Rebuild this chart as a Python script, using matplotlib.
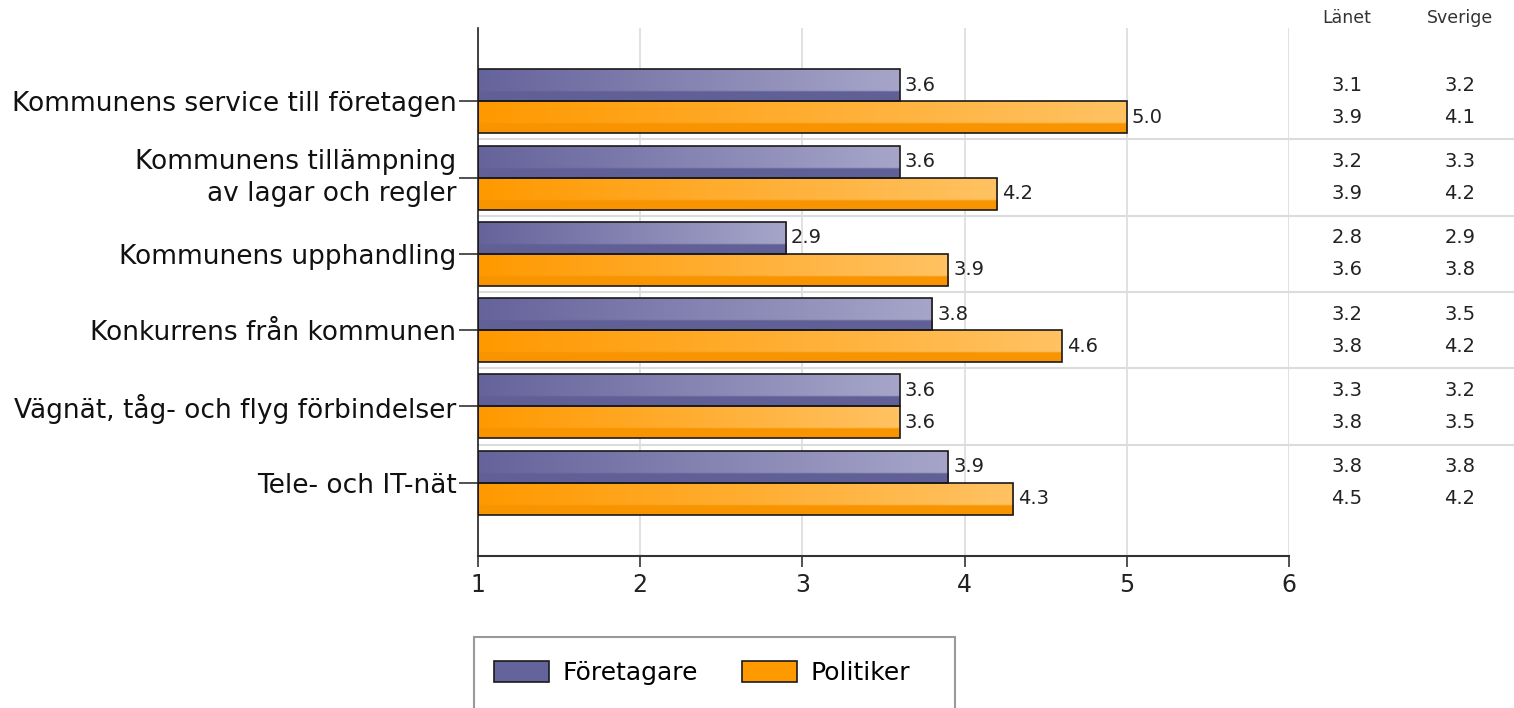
import numpy as np
import matplotlib
matplotlib.use("Agg")
import matplotlib.pyplot as plt
from matplotlib.colors import to_rgb
from matplotlib.patches import Rectangle, Patch
from matplotlib.transforms import ScaledTranslation

plt.rcParams['font.family'] = ['DejaVu Sans']

categories = ["Kommunens service till företagen",
              "Kommunens tillämpning\nav lagar och regler",
              "Kommunens upphandling",
              "Konkurrens från kommunen",
              "Vägnät, tåg- och flyg förbindelser",
              "Tele- och IT-nät"]
series_names = ["Företagare", "Politiker"]
foretagare = [3.6, 3.6, 2.9, 3.8, 3.6, 3.9]
politiker = [5.0, 4.2, 3.9, 4.6, 3.6, 4.3]
lanet_f = [3.1, 3.2, 2.8, 3.2, 3.3, 3.8]
lanet_p = [3.9, 3.9, 3.6, 3.8, 3.8, 4.5]
sverige_f = [3.2, 3.3, 2.9, 3.5, 3.2, 3.8]
sverige_p = [4.1, 4.2, 3.8, 4.2, 3.5, 4.2]
xticks = [1, 2, 3, 4, 5, 6]
table_headers = ["Länet", "Sverige"]

col_f = "#65639B"
col_f_light = "#A6A5C9"
col_p = "#FF9900"
col_p_light = "#FFC262"
txt = "#222222"

W, H = 1514, 708
fig = plt.figure(figsize=(W / 100, H / 100), dpi=100)
ax = fig.add_axes([478 / W, 1 - 556 / H, (1289 - 478) / W, (556 - 28) / H])

base = 1
y = np.arange(len(categories))
bh = 0.42
off = 0.21

def gradient_fill(ax, bar, c0, c1):
    x0, y0 = bar.get_x(), bar.get_y()
    w, h = bar.get_width(), bar.get_height()
    n = 200
    a = np.array(to_rgb(c0))
    b = np.array(to_rgb(c1))
    t = np.linspace(0, 1, n)
    row = a[None, :] * (1 - t[:, None]) + b[None, :] * t[:, None]
    rows = 20
    img = np.zeros((rows, n, 3))
    for r in range(rows):
        frac = r / (rows - 1)
        if frac > 0.70:
            img[r] = a * 0.97
        else:
            img[r] = row
    im = ax.imshow(img, extent=(x0, x0 + w, y0 + h, y0), aspect='auto',
                   interpolation='bilinear', zorder=2, origin='upper')
    im.set_clip_path(bar)

bars_f = ax.barh(y - off, np.array(foretagare) - base, left=base, height=bh,
                 color=col_f, edgecolor="#1a1a1a", linewidth=1.2, zorder=3)
bars_p = ax.barh(y + off, np.array(politiker) - base, left=base, height=bh,
                 color=col_p, edgecolor="#1a1a1a", linewidth=1.2, zorder=3)
for b in list(bars_f) + list(bars_p):
    b.set_facecolor("none")
for b in bars_f:
    gradient_fill(ax, b, col_f, col_f_light)
for b in bars_p:
    gradient_fill(ax, b, col_p, col_p_light)

for yi, v in zip(y - off, foretagare):
    ax.text(v + 0.03, yi, f"{v:.1f}", va="center", ha="left", fontsize=14, color=txt)
for yi, v in zip(y + off, politiker):
    ax.text(v + 0.03, yi, f"{v:.1f}", va="center", ha="left", fontsize=14, color=txt)

ax.set_xlim(1, 6)
ax.set_ylim(len(categories) - 0.04, -0.96)
ax.set_xticks(xticks)
ax.set_xticklabels([str(t) for t in xticks], fontsize=17, color=txt)
ax.set_yticks(y)
ax.set_yticklabels(categories, fontsize=19, color="#111111", linespacing=1.3)
ax.tick_params(axis="x", length=8, width=1.2, color="#333333", pad=4)
ax.tick_params(axis="y", length=14, width=1.2, color="#333333", pad=1.5)
for lab in ax.get_yticklabels():
    if "\n" in lab.get_text():
        lab.set_transform(lab.get_transform() + ScaledTranslation(0, 0.06, fig.dpi_scale_trans))
for s in ["top", "right"]:
    ax.spines[s].set_visible(False)
ax.spines["left"].set_color("#222222")
ax.spines["bottom"].set_color("#333333")
ax.spines["left"].set_linewidth(1.2)
ax.spines["bottom"].set_linewidth(1.5)
ax.xaxis.grid(True, color="#dcdcdc", linewidth=1.2, zorder=0)
ax.set_axisbelow(True)

# separators between categories, extending across the side table
scale = (1289 - 478) / 5
x_right = 1 + (W - 478) / scale
for b in np.arange(0.5, len(categories) - 1, 1.0):
    ax.plot([1, x_right], [b, b], color="#dcdcdc", linewidth=1.5, clip_on=False, zorder=1)

# side table
x_lan = 1 + (1347 - 478) / scale
x_sve = 1 + (1460 - 478) / scale
for i in range(len(categories)):
    ax.text(x_lan, y[i] - off, f"{lanet_f[i]:.1f}", ha="center", va="center", fontsize=14, color=txt, clip_on=False)
    ax.text(x_lan, y[i] + off, f"{lanet_p[i]:.1f}", ha="center", va="center", fontsize=14, color=txt, clip_on=False)
    ax.text(x_sve, y[i] - off, f"{sverige_f[i]:.1f}", ha="center", va="center", fontsize=14, color=txt, clip_on=False)
    ax.text(x_sve, y[i] + off, f"{sverige_p[i]:.1f}", ha="center", va="center", fontsize=14, color=txt, clip_on=False)
fig.text(1347 / W, 1 - 18 / H, table_headers[0], ha="center", va="center", fontsize=12.5, color="#333333")
fig.text(1460 / W, 1 - 18 / H, table_headers[1], ha="center", va="center", fontsize=12.5, color="#333333")

# legend
fig.patches.append(Rectangle((474 / W, 1 - 712 / H), (955 - 474) / W, (712 - 637) / H,
                             transform=fig.transFigure, facecolor="white",
                             edgecolor="#999999", linewidth=1.5, zorder=0))
handles = [Patch(facecolor=col_f, edgecolor="#1a1a1a", linewidth=1.2, label=series_names[0]),
           Patch(facecolor=col_p, edgecolor="#1a1a1a", linewidth=1.2, label=series_names[1])]
fig.legend(handles=handles, loc="center left", bbox_to_anchor=(494 / W, 1 - 673 / H),
           ncol=2, frameon=False, fontsize=18, handlelength=2.2, handleheight=0.9,
           handletextpad=0.55, columnspacing=1.75, borderpad=0, borderaxespad=0)

fig.savefig("out.png", dpi=100, facecolor="white")
